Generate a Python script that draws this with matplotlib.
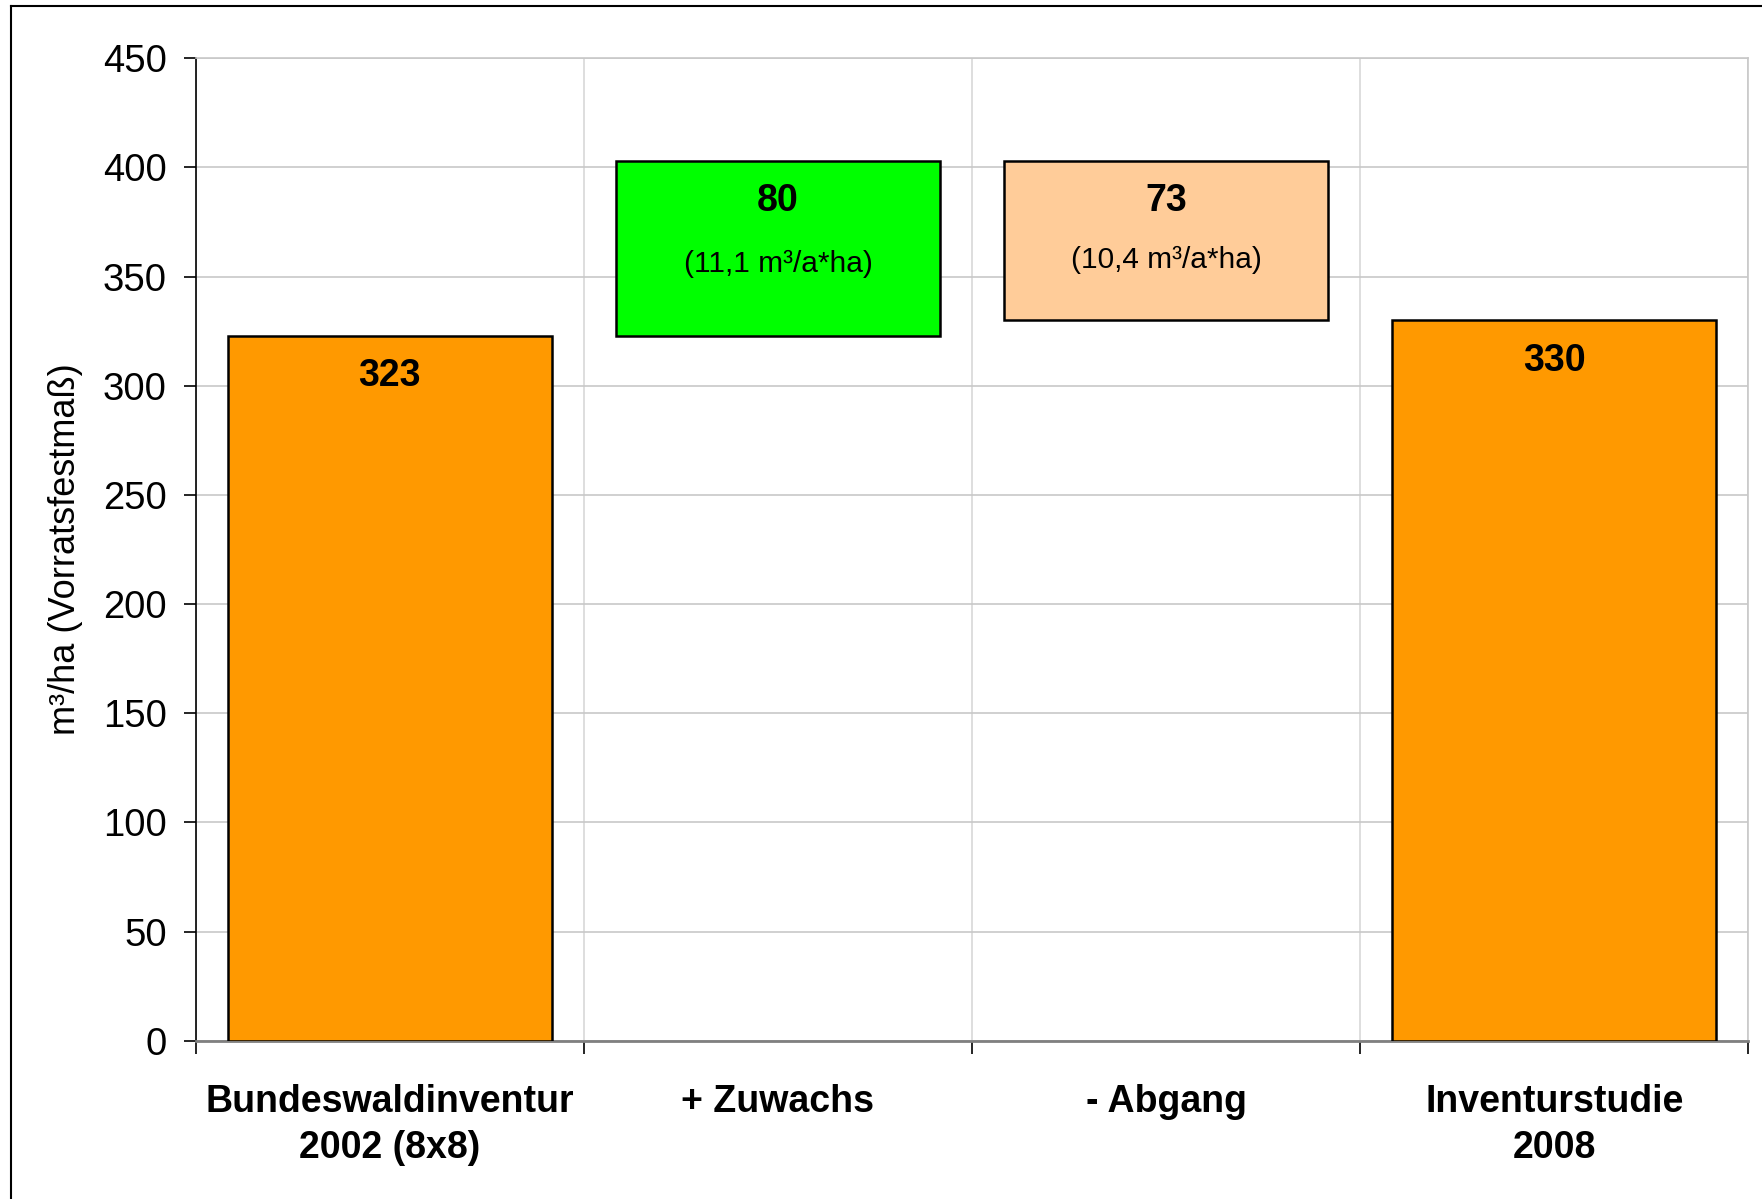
import matplotlib
matplotlib.use("Agg")
import matplotlib.pyplot as plt
from matplotlib.lines import Line2D

plt.rcParams['font.family'] = ['Liberation Sans', 'DejaVu Sans']

categories = ["Bundeswaldinventur\n2002 (8x8)", "+ Zuwachs", "- Abgang", "Inventurstudie\n2008"]
values = [323, 80, 73, 330]
bottoms = [0, 323, 330, 0]
colors = ["#FF9900", "#00FF00", "#FFCC99", "#FF9900"]
sublabels = [None, "(11,1 m³/a*ha)", "(10,4 m³/a*ha)", None]
y_ticks = [0, 50, 100, 150, 200, 250, 300, 350, 400, 450]

fig = plt.figure(figsize=(17.62, 11.99), dpi=100)
ax = fig.add_axes([0.1111, 0.1320, 0.8811, 0.8194])

x = list(range(len(categories)))
ax.bar(x, values, bottom=bottoms, width=0.836, color=colors,
       edgecolor="black", linewidth=1.8, zorder=3)

for xi, v, b, sub in zip(x, values, bottoms, sublabels):
    top = v + b
    off_main = -29 if sub is None else -29
    ax.annotate(str(v), xy=(xi, top), xytext=(0, off_main), textcoords="offset points",
                ha="center", va="center", fontsize=27, fontweight="bold", zorder=4)
    if sub:
        off = -74 if xi == 1 else -71
        ax.annotate(sub, xy=(xi, top), xytext=(0, off), textcoords="offset points",
                    ha="center", va="center", fontsize=21.5, zorder=4)

ax.set_xlim(-0.5, 3.5)
ax.set_ylim(0, 450)
ax.set_yticks(y_ticks)
ax.tick_params(axis="y", labelsize=27.5, length=9, width=1.2, direction="out", pad=12)

# category labels between boundary ticks
ax.set_xticks([-0.5, 0.5, 1.5, 2.5, 3.5])
ax.set_xticklabels([])
ax.tick_params(axis="x", length=9, width=1.2, direction="out")
ax.set_xticks(x, minor=True)
ax.set_xticklabels(categories, minor=True, fontsize=27, fontweight="bold", linespacing=1.35)
ax.tick_params(axis="x", which="minor", length=0, pad=31)

ax.set_axisbelow(True)
ax.yaxis.grid(True, color="#C8C8C8", linewidth=1.2)
ax.xaxis.grid(True, which="major", color="#D8D8D8", linewidth=1.2)

ax.spines["left"].set_color("black")
ax.spines["left"].set_linewidth(1.2)
ax.spines["bottom"].set_color("#808080")
ax.spines["bottom"].set_linewidth(2)
ax.spines["top"].set_color("#C8C8C8")
ax.spines["right"].set_color("#C8C8C8")
ax.spines["top"].set_linewidth(1.2)
ax.spines["right"].set_linewidth(1.2)

ax.set_ylabel("m³/ha (Vorratsfestmaß)", fontsize=26, labelpad=14)

# outer frame (left and top visible)
fig.add_artist(Line2D([11/1762, 11/1762], [0, 1 - 6/1199], transform=fig.transFigure,
                      color="black", linewidth=1.5))
fig.add_artist(Line2D([11/1762, 1], [1 - 6/1199, 1 - 6/1199], transform=fig.transFigure,
                      color="black", linewidth=1.5))

fig.savefig("out.png", dpi=100)
